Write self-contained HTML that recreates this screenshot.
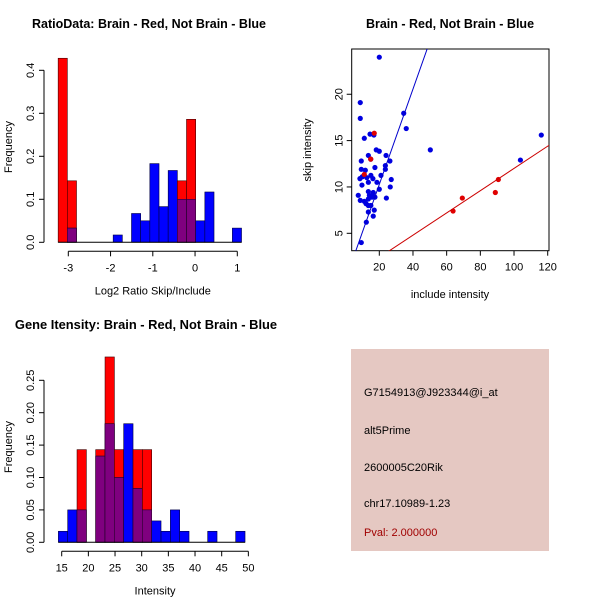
<!DOCTYPE html>
<html><head><meta charset="utf-8"><style>
body{margin:0;background:#fff}
svg text{font-family:"Liberation Sans",sans-serif;font-size:11px;fill:#000}
.t{font-weight:bold;font-size:12.5px}
</style></head><body>
<svg id="s" width="600" height="600" xmlns="http://www.w3.org/2000/svg">
<rect width="600" height="600" fill="#fff"/>
<text class="t" x="149" y="28" text-anchor="middle">RatioData: Brain - Red, Not Brain - Blue</text>
<text class="t" x="450" y="28" text-anchor="middle">Brain - Red, Not Brain - Blue</text>
<text class="t" x="146" y="329" text-anchor="middle" style="font-size:12.9px">Gene Itensity: Brain - Red, Not Brain - Blue</text>
<g>
<rect x="351" y="349" width="198" height="202" fill="#e5c8c2"/>
<text x="364" y="396">G7154913@J923344@i_at</text>
<text x="364" y="434">alt5Prime</text>
<text x="364" y="471">2600005C20Rik</text>
<text x="364" y="507">chr17.10989-1.23</text>
<text x="364" y="536" style="fill:#a00000">Pval: 2.000000</text>
</g>
</svg>
<script>
// Ratio histogram data
const ratioBinStart=-3.24, ratioBinWidth=0.217;
const ratioRed=[0.428,0.143,0,0,0,0,0,0,0,0,0,0,0,0.143,0.286,0,0,0,0,0];
const ratioBlue=[0,0.033,0,0,0,0,0.017,0,0.067,0.05,0.183,0.083,0.167,0.1,0.1,0.05,0.117,0,0,0.033];
const ratioXTicks=[-3,-2,-1,0,1];
const ratioYTicks=[0,0.1,0.2,0.3,0.4];
// Intensity histogram data
const intBinStart=14.375, intBinWidth=1.75;
const intRed=[0,0,0.143,0,0.143,0.286,0.143,0,0.143,0.143,0,0,0,0,0,0,0,0,0,0];
const intBlue=[0.017,0.05,0.05,0,0.133,0.183,0.1,0.183,0.083,0.05,0.033,0.017,0.05,0.017,0,0,0.017,0,0,0.017];
const intXTicks=[15,20,25,30,35,40,45,50];
const intYTicks=[0,0.05,0.10,0.15,0.20,0.25];
const intYLabels=["0.00","0.05","0.10","0.15","0.20","0.25"];
// Scatter data
const blueX=[20,8.7,8.7,34.5,36,11.1,14.5,16.8,18.2,20,50.3,13.5,24,14.9,26.3,9.3,17.4,23.6,23.6,9.3,11.7,15,21,9.9,8.5,12.6,16.2,27.1,13.5,18.6,9.7,26.5,20,13.5,16.4,7.5,14.1,15.6,17.4,13.5,24.2,8.7,11.1,12.1,15,13.5,17,13.5,16.4,12.3,9.3,103.8,116.2];
const blueY=[24,19.1,17.4,17.95,16.3,15.25,15.7,15.6,14,13.85,14,13.4,13.4,13,12.8,12.8,12.1,12.3,11.9,11.9,11.8,11.25,11.25,11.1,10.9,11,10.9,10.8,10.5,10.5,10.2,10,9.75,9.5,9.4,9.1,9.1,8.9,8.9,8.7,8.8,8.55,8.45,8.2,8,8,7.5,7.3,6.85,6.2,4.0,12.9,15.6];
const redX=[14.9,17,11.1,63.8,69.3,88.9,90.7];
const redY=[13,15.8,11.35,7.4,8.8,9.4,10.8];
const blueSlope=0.514, redSlope=0.12;
const scXTicks=[20,40,60,80,100,120];
const scYTicks=[5,10,15,20];

const S=document.getElementById('s'),NS='http://www.w3.org/2000/svg';
function mk(t,a,txt){const e=document.createElementNS(NS,t);for(const k in a)e.setAttribute(k,a[k]);if(txt!==undefined)e.textContent=txt;S.appendChild(e);return e;}

function hist(red,blue,start,w,xs,ys,xTicks,yTicks,yLabels,xlab,prefix,yTop){
  const base=ys(0);
  for(let i=0;i<red.length;i++){
    const x0=xs(start+i*w),x1=xs(start+(i+1)*w),r=red[i],b=blue[i];
    if(r>0){const e=mk('rect',{x:x0,y:ys(r),width:x1-x0,height:base-ys(r),fill:'#ff0000',stroke:'#400000','stroke-width':0.6});
      
      }
    if(b>0){const e=mk('rect',{x:x0,y:ys(b),width:x1-x0,height:base-ys(b),fill:'#0000ff',stroke:'#000040','stroke-width':0.6});
      
      }
    if(r>0&&b>0){const m=Math.min(r,b);const e=mk('rect',{x:x0,y:ys(m),width:x1-x0,height:base-ys(m),fill:'#7f007f',stroke:'#300030','stroke-width':0.6});
      
      }
  }
  const bl=mk('line',{x1:xs(start),x2:xs(start+red.length*w),y1:base,y2:base,stroke:'#000'});
  
  
  const ax=44;
  const ya=mk('line',{x1:ax,x2:ax,y1:ys(yTicks[0]),y2:ys(yTicks[yTicks.length-1]),stroke:'#000'});
  
  
  yTicks.forEach((v,i)=>{const y=ys(v);mk('line',{x1:ax-5,x2:ax,y1:y,y2:y,stroke:'#000'});
    const t=mk('text',{x:0,y:0,'text-anchor':'middle',transform:`translate(${ax-10},${y}) rotate(-90)`},yLabels[i]);
    
    });
  const xa=base+9;
  const xl=mk('line',{x1:xs(xTicks[0]),x2:xs(xTicks[xTicks.length-1]),y1:xa,y2:xa,stroke:'#000'});
  
  
  xTicks.forEach(v=>{const x=xs(v);mk('line',{x1:x,x2:x,y1:xa,y2:xa+5,stroke:'#000'});
    const t=mk('text',{x:x,y:xa+20,'text-anchor':'middle'},String(v));
    
    });
  const xt=mk('text',{x:(xs(xTicks[0])+xs(xTicks[xTicks.length-1]))/2+0,y:base+52,'text-anchor':'middle'},xlab);
  
  
  const yt=mk('text',{x:0,y:0,'text-anchor':'middle',transform:`translate(12,${yTop}) rotate(-90)`},'Frequency');
  
  
}
const rx=v=>68.3+(v+3)*42.25, ry=v=>242.3-v*430;
hist(ratioRed,ratioBlue,ratioBinStart,ratioBinWidth,rx,ry,ratioXTicks,ratioYTicks,ratioYTicks.map(String).map(s=>s==='0'?'0.0':s),'Log2 Ratio Skip/Include','ratio',147);
const ix=v=>61.7+(v-15)*5.333, iy=v=>542.3-v*648;
hist(intRed,intBlue,intBinStart,intBinWidth,ix,iy,intXTicks,intYTicks,intYLabels,'Intensity','intensity',447);

// scatter
const sx=v=>379.3+(v-20)*1.684, sy=v=>233.3-(v-5)*9.27;
const L=351.7,R=549,T=49,B=250.7;
const box=mk('rect',{x:L,y:T,width:R-L,height:B-T,fill:'none',stroke:'#000'});


mk('clipPath',{id:'cp'});
const cp=S.lastChild;const cr=document.createElementNS(NS,'rect');
cr.setAttribute('x',L);cr.setAttribute('y',T);cr.setAttribute('width',R-L);cr.setAttribute('height',B-T);cp.appendChild(cr);
blueX.forEach((v,i)=>{const c=mk('circle',{cx:sx(v),cy:sy(blueY[i]),r:2.6,fill:'#0000e0'});
  
  });
redX.forEach((v,i)=>{const c=mk('circle',{cx:sx(v),cy:sy(redY[i]),r:2.6,fill:'#e00000'});
  
  });
const l1=mk('line',{x1:sx(0),y1:sy(0),x2:sx(130),y2:sy(130*blueSlope),stroke:'#0000cc','clip-path':'url(#cp)'});


const l2=mk('line',{x1:sx(0),y1:sy(0),x2:sx(130),y2:sy(130*redSlope),stroke:'#cc0000','clip-path':'url(#cp)'});


scXTicks.forEach(v=>{const x=sx(v);mk('line',{x1:x,x2:x,y1:B,y2:B+5,stroke:'#000'});
  const t=mk('text',{x:x,y:B+20,'text-anchor':'middle'},String(v));
  
  });
scYTicks.forEach(v=>{const y=sy(v);mk('line',{x1:L-5,x2:L,y1:y,y2:y,stroke:'#000'});
  const t=mk('text',{x:0,y:0,'text-anchor':'middle',transform:`translate(${L-9},${y}) rotate(-90)`},String(v));
  
  });
const sxt=mk('text',{x:450,y:298,'text-anchor':'middle'},'include intensity');


const syt=mk('text',{x:0,y:0,'text-anchor':'middle',transform:'translate(311,150) rotate(-90)'},'skip intensity');


</script>
</body></html>
